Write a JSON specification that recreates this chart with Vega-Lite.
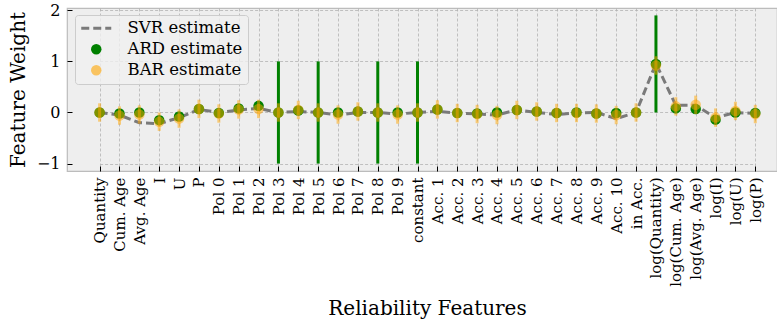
{
  "$schema": "https://vega.github.io/schema/vega-lite/v6.json",
  "autosize": "none",
  "width": 710,
  "height": 163,
  "padding": {"left": 67, "top": 8, "right": 0, "bottom": 157},
  "background": "white",
  "config": {
    "font": "DejaVu Serif",
    "view": {"fill": "#eeeeee", "stroke": "#bcbcbc", "strokeWidth": 1.2},
    "legend": {"labelFont": "DejaVu Serif"},
    "axis": {
      "domain": false,
      "gridColor": "#b2b2b2",
      "gridDash": [3, 2],
      "gridWidth": 0.8,
      "tickColor": "black",
      "tickSize": -5,
      "tickWidth": 1,
      "labelColor": "black",
      "titleColor": "black",
      "titleFontWeight": "normal",
      "labelFont": "DejaVu Serif",
      "titleFont": "DejaVu Serif"
    }
  },
  "data": {
    "values": [
      {"feature": "Quantity", "svr": 0.0, "ard": 0.0, "ard_lo": -0.04, "ard_hi": 0.04, "bar": 0.0, "bar_lo": -0.18, "bar_hi": 0.18},
      {"feature": "Cum. Age", "svr": -0.05, "ard": -0.02, "ard_lo": -0.06, "ard_hi": 0.02, "bar": -0.06, "bar_lo": -0.24, "bar_hi": 0.12},
      {"feature": "Avg. Age", "svr": -0.2, "ard": 0.0, "ard_lo": -0.04, "ard_hi": 0.04, "bar": -0.04, "bar_lo": -0.22, "bar_hi": 0.14},
      {"feature": "I", "svr": -0.22, "ard": -0.15, "ard_lo": -0.19, "ard_hi": -0.11, "bar": -0.18, "bar_lo": -0.36, "bar_hi": 0.0},
      {"feature": "U", "svr": -0.1, "ard": -0.08, "ard_lo": -0.12, "ard_hi": -0.04, "bar": -0.12, "bar_lo": -0.3, "bar_hi": 0.06},
      {"feature": "P", "svr": 0.06, "ard": 0.07, "ard_lo": 0.03, "ard_hi": 0.11, "bar": 0.07, "bar_lo": -0.11, "bar_hi": 0.25},
      {"feature": "Pol 0", "svr": 0.0, "ard": -0.01, "ard_lo": -0.05, "ard_hi": 0.03, "bar": -0.02, "bar_lo": -0.2, "bar_hi": 0.16},
      {"feature": "Pol 1", "svr": 0.05, "ard": 0.08, "ard_lo": 0.04, "ard_hi": 0.12, "bar": 0.06, "bar_lo": -0.12, "bar_hi": 0.24},
      {"feature": "Pol 2", "svr": 0.08, "ard": 0.13, "ard_lo": 0.09, "ard_hi": 0.17, "bar": 0.07, "bar_lo": -0.11, "bar_hi": 0.25},
      {"feature": "Pol 3", "svr": 0.0, "ard": 0.0, "ard_lo": -1.0, "ard_hi": 1.0, "bar": 0.0, "bar_lo": -0.18, "bar_hi": 0.18},
      {"feature": "Pol 4", "svr": 0.02, "ard": 0.04, "ard_lo": 0.0, "ard_hi": 0.08, "bar": 0.05, "bar_lo": -0.13, "bar_hi": 0.23},
      {"feature": "Pol 5", "svr": 0.0, "ard": 0.0, "ard_lo": -1.0, "ard_hi": 1.0, "bar": 0.0, "bar_lo": -0.18, "bar_hi": 0.18},
      {"feature": "Pol 6", "svr": -0.05, "ard": 0.0, "ard_lo": -0.04, "ard_hi": 0.04, "bar": -0.04, "bar_lo": -0.22, "bar_hi": 0.14},
      {"feature": "Pol 7", "svr": 0.0, "ard": 0.02, "ard_lo": -0.02, "ard_hi": 0.06, "bar": 0.02, "bar_lo": -0.16, "bar_hi": 0.2},
      {"feature": "Pol 8", "svr": 0.0, "ard": 0.0, "ard_lo": -1.0, "ard_hi": 1.0, "bar": 0.0, "bar_lo": -0.18, "bar_hi": 0.18},
      {"feature": "Pol 9", "svr": -0.03, "ard": 0.0, "ard_lo": -0.04, "ard_hi": 0.04, "bar": -0.04, "bar_lo": -0.22, "bar_hi": 0.14},
      {"feature": "constant", "svr": 0.0, "ard": 0.0, "ard_lo": -1.0, "ard_hi": 1.0, "bar": 0.0, "bar_lo": -0.18, "bar_hi": 0.18},
      {"feature": "Acc. 1", "svr": 0.02, "ard": 0.06, "ard_lo": 0.02, "ard_hi": 0.1, "bar": 0.06, "bar_lo": -0.12, "bar_hi": 0.24},
      {"feature": "Acc. 2", "svr": -0.01, "ard": -0.01, "ard_lo": -0.05, "ard_hi": 0.03, "bar": -0.01, "bar_lo": -0.19, "bar_hi": 0.17},
      {"feature": "Acc. 3", "svr": -0.03, "ard": -0.02, "ard_lo": -0.06, "ard_hi": 0.02, "bar": -0.03, "bar_lo": -0.21, "bar_hi": 0.15},
      {"feature": "Acc. 4", "svr": -0.05, "ard": 0.0, "ard_lo": -0.04, "ard_hi": 0.04, "bar": -0.05, "bar_lo": -0.23, "bar_hi": 0.13},
      {"feature": "Acc. 5", "svr": 0.05, "ard": 0.05, "ard_lo": 0.01, "ard_hi": 0.09, "bar": 0.05, "bar_lo": -0.13, "bar_hi": 0.23},
      {"feature": "Acc. 6", "svr": 0.0, "ard": 0.02, "ard_lo": -0.02, "ard_hi": 0.06, "bar": 0.02, "bar_lo": -0.16, "bar_hi": 0.2},
      {"feature": "Acc. 7", "svr": -0.04, "ard": -0.01, "ard_lo": -0.05, "ard_hi": 0.03, "bar": -0.01, "bar_lo": -0.19, "bar_hi": 0.17},
      {"feature": "Acc. 8", "svr": -0.01, "ard": 0.0, "ard_lo": -0.04, "ard_hi": 0.04, "bar": -0.01, "bar_lo": -0.19, "bar_hi": 0.17},
      {"feature": "Acc. 9", "svr": 0.0, "ard": -0.02, "ard_lo": -0.06, "ard_hi": 0.02, "bar": -0.02, "bar_lo": -0.2, "bar_hi": 0.16},
      {"feature": "Acc. 10", "svr": -0.12, "ard": -0.01, "ard_lo": -0.05, "ard_hi": 0.03, "bar": -0.05, "bar_lo": -0.23, "bar_hi": 0.13},
      {"feature": "in Acc.", "svr": 0.0, "ard": 0.0, "ard_lo": -0.04, "ard_hi": 0.04, "bar": 0.0, "bar_lo": -0.18, "bar_hi": 0.18},
      {"feature": "log(Quantity)", "svr": 0.96, "ard": 0.95, "ard_lo": 0.0, "ard_hi": 1.9, "bar": 0.92, "bar_lo": 0.74, "bar_hi": 1.1},
      {"feature": "log(Cum. Age)", "svr": 0.14, "ard": 0.08, "ard_lo": 0.04, "ard_hi": 0.12, "bar": 0.12, "bar_lo": -0.06, "bar_hi": 0.3},
      {"feature": "log(Avg. Age)", "svr": 0.14, "ard": 0.07, "ard_lo": 0.03, "ard_hi": 0.11, "bar": 0.15, "bar_lo": -0.03, "bar_hi": 0.33},
      {"feature": "log(I)", "svr": -0.1, "ard": -0.14, "ard_lo": -0.18, "ard_hi": -0.1, "bar": -0.1, "bar_lo": -0.28, "bar_hi": 0.08},
      {"feature": "log(U)", "svr": 0.0, "ard": 0.0, "ard_lo": -0.04, "ard_hi": 0.04, "bar": 0.03, "bar_lo": -0.15, "bar_hi": 0.21},
      {"feature": "log(P)", "svr": -0.02, "ard": -0.01, "ard_lo": -0.05, "ard_hi": 0.03, "bar": -0.03, "bar_lo": -0.21, "bar_hi": 0.15}
    ]
  },
  "encoding": {
    "x": {
      "field": "feature",
      "type": "nominal",
      "sort": null,
      "scale": {"type": "point", "padding": 0, "range": [32.6, 688.3]},
      "axis": {
        "title": "Reliability Features",
        "titleFont": "DejaVu Serif",
        "titleFontSize": 20,
        "titlePadding": 12,
        "titleX": 360,
        "labelAngle": -90,
        "labelFontSize": 15,
        "labelPadding": 11,
        "grid": true
      }
    }
  },
  "layer": [
    {
      "mark": {"type": "line", "strokeWidth": 3, "strokeDash": [8, 4], "color": "#7a7a7a"},
      "encoding": {
        "y": {
          "field": "svr",
          "type": "quantitative",
          "scale": {"domain": [-1.145, 2.045], "nice": false, "zero": false},
          "axis": {
            "title": "Feature Weight",
            "titleFont": "DejaVu Serif",
            "titleFontSize": 20,
            "titlePadding": 8,
            "values": [-1, 0, 1, 2],
            "format": "d",
            "labelFontSize": 16,
            "labelPadding": 12,
            "grid": true
          }
        },
        "color": {
          "datum": "SVR estimate",
          "type": "nominal",
          "scale": {"domain": ["SVR estimate", "ARD estimate", "BAR estimate"], "range": ["#7a7a7a", "#008000", "#ffa500"]},
          "legend": {
            "title": null,
            "orient": "none",
            "legendX": 8,
            "legendY": 7,
            "labelFontSize": 16.5,
            "labelFont": "DejaVu Serif",
            "labelColor": "black",
            "symbolSize": 400,
            "symbolOffset": 8,
            "labelOffset": 23,
            "rowPadding": 4,
            "padding": 5,
            "fillColor": "rgba(240,240,240,0.8)",
            "strokeColor": "#cccccc",
            "cornerRadius": 3,
            "encode": {
              "labels": {
                "update": {
                  "font": {"value": "DejaVu Serif"}
                }
              },
              "symbols": {
                "update": {
                  "shape": {"signal": "datum.value === 'SVR estimate' ? 'M-1.5,0H1.5' : 'circle'"},
                  "size": {"signal": "datum.value === 'SVR estimate' ? 400 : 110"},
                  "strokeDash": {"signal": "datum.value === 'SVR estimate' ? [8, 4] : []"},
                  "strokeWidth": {"signal": "datum.value === 'SVR estimate' ? 3 : 0"},
                  "opacity": {"signal": "datum.value === 'BAR estimate' ? 0.6 : 1"}
                }
              }
            }
          }
        }
      }
    },
    {
      "mark": {"type": "rule", "strokeWidth": 3},
      "encoding": {
        "y": {"field": "ard_lo", "type": "quantitative"},
        "y2": {"field": "ard_hi"},
        "color": {"datum": "ARD estimate", "type": "nominal"}
      }
    },
    {
      "mark": {"type": "point", "filled": true, "size": 110, "opacity": 1, "shape": "circle"},
      "encoding": {
        "y": {"field": "ard", "type": "quantitative"},
        "color": {"datum": "ARD estimate", "type": "nominal"}
      }
    },
    {
      "mark": {"type": "rule", "strokeWidth": 3, "opacity": 0.5},
      "encoding": {
        "y": {"field": "bar_lo", "type": "quantitative"},
        "y2": {"field": "bar_hi"},
        "color": {"datum": "BAR estimate", "type": "nominal"}
      }
    },
    {
      "mark": {"type": "point", "filled": true, "size": 110, "opacity": 0.5, "shape": "circle"},
      "encoding": {
        "y": {"field": "bar", "type": "quantitative"},
        "color": {"datum": "BAR estimate", "type": "nominal"}
      }
    }
  ]
}
